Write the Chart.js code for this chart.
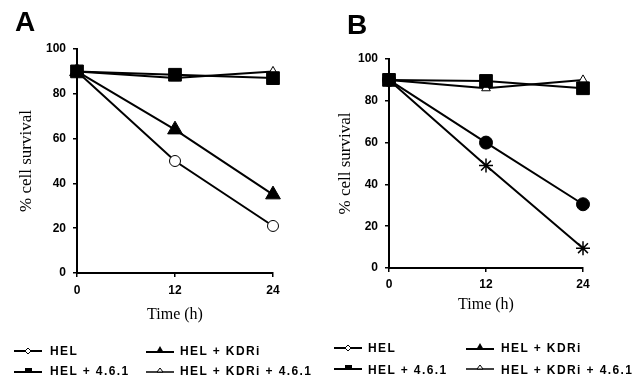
<!DOCTYPE html>
<html>
<head>
<meta charset="utf-8">
<script src="https://cdn.jsdelivr.net/npm/chart.js@4/dist/chart.umd.min.js"></script>
<style>
  html, body { margin: 0; padding: 0; background: #fff; }
  #wrap { position: relative; width: 636px; height: 379px; overflow: hidden; background: #fff; }
  canvas { position: absolute; top: 0; }
  .letter { position: absolute; font: bold 28px "Liberation Sans", Arial, sans-serif; line-height: 28px; color: #000; }
  .lg { position: absolute; font: bold 12px "Liberation Sans", Arial, sans-serif; letter-spacing: 1.4px; color: #000; line-height: 14px; white-space: nowrap; }
  .mk { position: absolute; }
</style>
</head>
<body>
<div id="wrap">
  <canvas id="cA" width="318" height="379" style="left:0"></canvas>
  <canvas id="cB" width="318" height="379" style="left:318px"></canvas>
  <div class="letter" style="left:15px;top:8px">A</div>
  <div class="letter" style="left:347px;top:11px">B</div>
  <div id="legends"></div>
</div>
<script>
// ---- data ----
const timePoints = [0, 12, 24];
const xTickValues = [0, 12, 24];
const yTickValues = [0, 20, 40, 60, 80, 100];
const seriesNames = ['HEL', 'HEL + KDRi', 'HEL + 4.6.1', 'HEL + KDRi + 4.6.1'];

// Panel A
const helA = [90, 87, 90];
const helKdriA = [90, 64, 35];
const hel461A = [90, 88.5, 87];
const helKdri461A = [90, 50, 21];

// Panel B
const helB = [90, 86, 90];
const helKdriB = [90, 60, 30.5];
const hel461B = [90, 89.5, 86];
const helKdri461B = [90, 49, 9.5];

const yAxisTitle = '% cell survival';
const xAxisTitle = 'Time (h)';

function pts(arr) { return timePoints.map((t, i) => ({ x: t, y: arr[i] })); }

function ds(label, arr, style, radius, fill, bw) {
  return {
    label, data: pts(arr), borderColor: '#000', borderWidth: 2,
    pointStyle: style, pointRadius: radius, pointHoverRadius: radius,
    pointBackgroundColor: fill, pointBorderColor: '#000', pointBorderWidth: bw,
    tension: 0, clip: false, fill: false
  };
}

function makeChart(id, datasets, geo) {
  return new Chart(document.getElementById(id), {
    type: 'line',
    data: { datasets },
    options: {
      responsive: false, animation: false, devicePixelRatio: 1,
      events: [],
      layout: { padding: { left: 0, top: geo.top, right: geo.right, bottom: geo.bottom } },
      plugins: { legend: { display: false }, tooltip: { enabled: false } },
      scales: {
        x: {
          type: 'linear', min: 0, max: 24,
          afterBuildTicks: s => { s.ticks = xTickValues.map(v => ({ value: v })); },
          afterFit: s => { s.height = geo.xh; },
          border: { color: '#000', width: 2 },
          grid: { display: true, drawOnChartArea: false, drawTicks: true, tickLength: 4, color: '#000', lineWidth: 1.5 },
          ticks: { color: '#000', padding: geo.xpad, font: { family: '"Liberation Sans", Arial, sans-serif', size: 12, weight: 'bold' } },
          title: { display: true, text: xAxisTitle, color: '#000', padding: 0,
                   font: { family: '"Liberation Serif", "Times New Roman", serif', size: 16 } }
        },
        y: {
          type: 'linear', min: 0, max: 100,
          afterBuildTicks: s => { s.ticks = yTickValues.map(v => ({ value: v })); },
          afterFit: s => { s.width = geo.yw; },
          border: { color: '#000', width: 2 },
          grid: { display: true, drawOnChartArea: false, drawTicks: true, tickLength: 4, color: '#000', lineWidth: 1.5 },
          ticks: { color: '#000', padding: 7, font: { family: '"Liberation Sans", Arial, sans-serif', size: 12, weight: 'bold' } },
          title: { display: true, text: yAxisTitle, color: '#000', padding: { top: geo.ytp, bottom: 0 },
                   font: { family: '"Liberation Serif", "Times New Roman", serif', size: 17 } }
        }
      }
    }
  });
}

// dataset index 0 is drawn on top
makeChart('cA', [
  ds(seriesNames[2], hel461A, 'rect', 9, '#000', 1),
  ds(seriesNames[0], helA, 'triangle', 5, '#fff', 1),
  ds(seriesNames[1], helKdriA, 'triangle', 8.5, '#000', 1),
  ds(seriesNames[3], helKdri461A, 'circle', 5.5, '#fff', 1)
], { top: 49, right: 45, bottom: 55, xh: 51, xpad: 6, yw: 77, ytp: 16 });

makeChart('cB', [
  ds(seriesNames[2], hel461B, 'rect', 9, '#000', 1),
  ds(seriesNames[0], helB, 'triangle', 5, '#fff', 1),
  ds(seriesNames[1], helKdriB, 'circle', 6.5, '#000', 1),
  ds(seriesNames[3], helKdri461B, 'star', 7, '#000', 1.5)
], { top: 59, right: 53, bottom: 65, xh: 46, xpad: 5, yw: 71, ytp: 17 });

// ---- HTML legends ----
const markerSvg = {
  'HEL': '<line x1="0" y1="6" x2="28" y2="6" stroke="#000" stroke-width="2"/><path d="M14 3 L17 6 L14 9 L11 6 Z" fill="#fff" stroke="#000" stroke-width="1"/>',
  'HEL + KDRi': '<line x1="0" y1="9" x2="28" y2="9" stroke="#000" stroke-width="2"/><path d="M14 3 L18 10 L10 10 Z" fill="#000"/>',
  'HEL + 4.6.1': '<line x1="0" y1="10" x2="28" y2="10" stroke="#000" stroke-width="2"/><rect x="11" y="6" width="7" height="5" fill="#000"/>',
  'HEL + KDRi + 4.6.1': '<line x1="0" y1="10" x2="28" y2="10" stroke="#000" stroke-width="1.5"/><path d="M14 6 L17 10 L11 10 Z" fill="#fff" stroke="#000" stroke-width="1"/>'
};
const legendLayout = [
  // [name, markerX, markerY, textX, textY]
  [seriesNames[0], 14, 345, 50, 344],
  [seriesNames[1], 146, 343, 180, 344],
  [seriesNames[2], 14, 362, 50, 364],
  [seriesNames[3], 146, 362, 180, 364],
  [seriesNames[0], 334, 342, 368, 341],
  [seriesNames[1], 466, 340, 501, 341],
  [seriesNames[2], 334, 359, 368, 363],
  [seriesNames[3], 466, 359, 501, 363]
];
const lg = document.getElementById('legends');
legendLayout.forEach(([name, mx, my, tx, ty]) => {
  const s = document.createElementNS('http://www.w3.org/2000/svg', 'svg');
  s.setAttribute('width', '28'); s.setAttribute('height', '12');
  s.setAttribute('class', 'mk');
  s.style.left = mx + 'px'; s.style.top = my + 'px';
  s.innerHTML = markerSvg[name];
  lg.appendChild(s);
  const d = document.createElement('div');
  d.className = 'lg'; d.style.left = tx + 'px'; d.style.top = ty + 'px';
  d.textContent = name;
  lg.appendChild(d);
});
</script>
</body>
</html>
